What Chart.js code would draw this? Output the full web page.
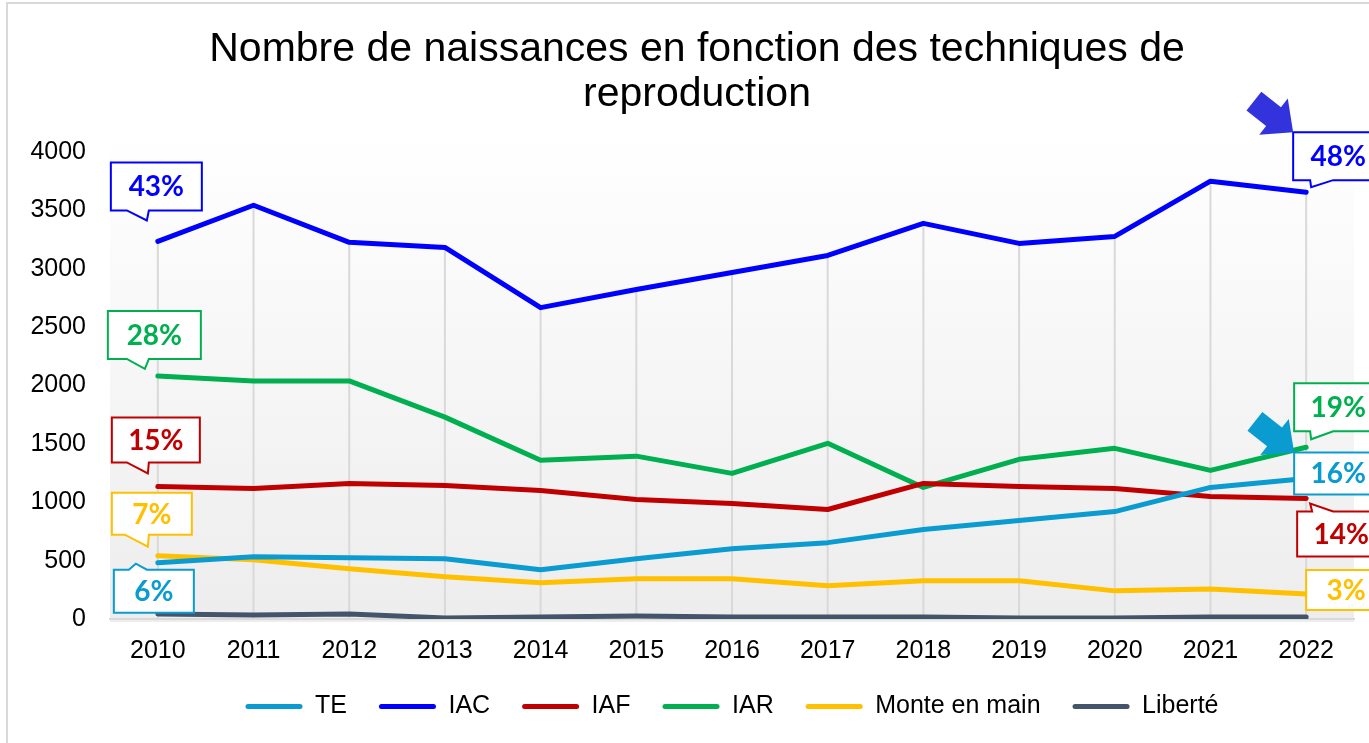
<!DOCTYPE html>
<html>
<head>
<meta charset="utf-8">
<script src="https://cdn.jsdelivr.net/npm/chart.js@4.4.1/dist/chart.umd.min.js"></script>
<style>
  html, body { margin: 0; padding: 0; background: #fff; overflow: hidden; }
  #wrap { position: relative; width: 1369px; height: 743px; }
</style>
</head>
<body>
<div id="wrap"><canvas id="chart"></canvas></div>
<script>
const years = ['2010', '2011', '2012', '2013', '2014', '2015', '2016', '2017', '2018', '2019', '2020', '2021', '2022'];
const te = [482, 533, 525, 516, 421, 516, 602, 654, 766, 843, 920, 1127, 1204];
const iac = [3234, 3544, 3226, 3183, 2667, 2822, 2968, 3114, 3389, 3217, 3277, 3750, 3656];
const iaf = [1135, 1118, 1161, 1144, 1101, 1024, 989, 938, 1161, 1135, 1118, 1049, 1032];
const iar = [2082, 2039, 2039, 1729, 1360, 1395, 1247, 1505, 1127, 1368, 1462, 1273, 1471];
const monte = [542, 508, 430, 361, 310, 344, 344, 284, 327, 327, 241, 258, 215];
const liberte = [43, 34, 43, 9, 17, 26, 17, 17, 17, 9, 9, 17, 17];
const yTicks = [0, 500, 1000, 1500, 2000, 2500, 3000, 3500, 4000];

const titleLines = ['Nombre de naissances en fonction des techniques de', 'reproduction'];

const colors = {
  te: '#0A9BD0',
  iac: '#0000FF',
  iaf: '#C00000',
  iar: '#00B050',
  monte: '#FFC000',
  liberte: '#44546A'
};

// callouts: dataset index, point index, box offset from the point, box size, tail
const callouts = [
  { ds: 1, i: 0, dx: -47, dy: -79, w: 91, h: 48, tail: 'bottom', b: [16, 38], tip: [-11, -21] },
  { ds: 3, i: 0, dx: -50, dy: -65, w: 93, h: 48, tail: 'bottom', b: [19, 41], tip: [-13, -7] },
  { ds: 2, i: 0, dx: -46, dy: -69, w: 88, h: 45, tail: 'bottom', b: [15, 37], tip: [-10, -13] },
  { ds: 4, i: 0, dx: -46, dy: -63, w: 80, h: 42, tail: 'bottom', b: [13, 37], tip: [-10, -9] },
  { ds: 0, i: 0, dx: -44, dy: 7, w: 80, h: 43, tail: 'top', b: [15, 33], tip: [-22, 1] },
  { ds: 1, i: 12, dx: -13, dy: -60, w: 90, h: 48, tail: 'bottom', b: [17, 40], tip: [5, -5], arrow: '#3333DD' },
  { ds: 3, i: 12, dx: -12, dy: -64, w: 88, h: 48, tail: 'bottom', b: [16, 39], tip: [5, -8] },
  { ds: 0, i: 12, dx: -12, dy: -26, w: 88, h: 42, arrow: '#0A9BD0' },
  { ds: 2, i: 12, dx: -9, dy: 13, w: 88, h: 45, tail: 'top', b: [15, 36], tip: [4, 5] },
  { ds: 4, i: 12, dx: 0, dy: -24, w: 80, h: 40 }
];

Chart.defaults.font.family = '"Liberation Sans", Arial, sans-serif';

function line(label, data, color) {
  return {
    label: label,
    data: data,
    borderColor: color,
    backgroundColor: color,
    borderWidth: 5,
    pointRadius: 0,
    tension: 0,
    borderCapStyle: 'round',
    borderJoinStyle: 'round'
  };
}

function drawArrow(ctx, tx, ty, color) {
  // block arrow pointing down-right to (tx, ty)
  ctx.save();
  ctx.translate(tx, ty);
  ctx.rotate(Math.atan2(30, 38));
  ctx.fillStyle = color;
  ctx.beginPath();
  ctx.moveTo(0, 0);
  ctx.lineTo(-25, -23);
  ctx.lineTo(-25, -12);
  ctx.lineTo(-50, -12);
  ctx.lineTo(-50, 12);
  ctx.lineTo(-25, 12);
  ctx.lineTo(-25, 23);
  ctx.closePath();
  ctx.fill();
  ctx.restore();
}

const decor = {
  id: 'decor',
  beforeDraw(chart) {
    const { ctx, chartArea: a } = chart;
    ctx.save();
    ctx.fillStyle = '#fff';
    ctx.fillRect(0, 0, chart.width, chart.height);
    ctx.strokeStyle = '#d9d9d9';
    ctx.lineWidth = 2;
    ctx.beginPath();
    ctx.moveTo(7, chart.height);
    ctx.lineTo(7, 3);
    ctx.lineTo(chart.width, 3);
    ctx.stroke();
    const g = ctx.createLinearGradient(0, a.top - 20, 0, a.bottom);
    g.addColorStop(0, '#ffffff');
    g.addColorStop(1, '#ededed');
    ctx.fillStyle = g;
    ctx.fillRect(a.left, a.top - 20, a.right - a.left, a.bottom - a.top + 23);
    ctx.restore();
  },
  beforeDatasetsDraw(chart) {
    // drop lines from the highest series down to the axis
    const { ctx, scales } = chart;
    ctx.save();
    ctx.strokeStyle = '#d9d9d9';
    ctx.lineWidth = 2;
    years.forEach((y, i) => {
      const top = Math.max(...chart.data.datasets.map(d => d.data[i]));
      const x = scales.x.getPixelForValue(i);
      ctx.beginPath();
      ctx.moveTo(x, scales.y.getPixelForValue(top));
      ctx.lineTo(x, scales.y.getPixelForValue(0));
      ctx.stroke();
    });
    ctx.restore();
  },
  afterDatasetsDraw(chart) {
    const { ctx } = chart;
    const sets = chart.data.datasets;
    ctx.save();
    callouts.forEach(c => {
      const pt = chart.getDatasetMeta(c.ds).data[c.i];
      const total = sets.reduce((s, d) => s + d.data[c.i], 0);
      const pct = Math.round(sets[c.ds].data[c.i] / total * 100) + '%';
      const color = sets[c.ds].borderColor;
      const x = pt.x + c.dx, y = pt.y + c.dy, w = c.w, h = c.h;
      ctx.beginPath();
      ctx.moveTo(x, y);
      if (c.tail === 'top') {
        ctx.lineTo(x + c.b[0], y);
        ctx.lineTo(pt.x + c.tip[0], pt.y + c.tip[1]);
        ctx.lineTo(x + c.b[1], y);
      }
      ctx.lineTo(x + w, y);
      ctx.lineTo(x + w, y + h);
      if (c.tail === 'bottom') {
        ctx.lineTo(x + c.b[1], y + h);
        ctx.lineTo(pt.x + c.tip[0], pt.y + c.tip[1]);
        ctx.lineTo(x + c.b[0], y + h);
      }
      ctx.lineTo(x, y + h);
      ctx.closePath();
      ctx.fillStyle = '#fff';
      ctx.fill();
      ctx.strokeStyle = color;
      ctx.lineWidth = 2;
      ctx.stroke();
      ctx.fillStyle = color;
      ctx.font = 'bold 28px Lato, "Open Sans", sans-serif';
      ctx.textAlign = 'center';
      ctx.textBaseline = 'middle';
      ctx.fillText(pct, x + w / 2, y + h / 2 + 1);
      if (c.arrow) drawArrow(ctx, x, y, c.arrow);
    });
    ctx.restore();
  },
  afterDraw(chart) {
    const { ctx } = chart;
    ctx.save();
    ctx.fillStyle = '#000';
    ctx.font = '41px "Liberation Sans", Arial, sans-serif';
    ctx.textAlign = 'center';
    ctx.textBaseline = 'middle';
    ctx.fillText(titleLines[0], 697, 50);
    ctx.fillText(titleLines[1], 697, 95);
    ctx.restore();
  }
};

new Chart(document.getElementById('chart'), {
  type: 'line',
  data: {
    labels: years,
    datasets: [
      line('TE', te, colors.te),
      line('IAC', iac, colors.iac),
      line('IAF', iaf, colors.iaf),
      line('IAR', iar, colors.iar),
      line('Monte en main', monte, colors.monte),
      line('Liberté', liberte, colors.liberte)
    ]
  },
  options: {
    responsive: true,
    maintainAspectRatio: false,
    animation: false,
    layout: { padding: { left: 0, right: 15, top: 152, bottom: 14 } },
    plugins: {
      title: { display: false },
      tooltip: { enabled: false },
      legend: {
        position: 'bottom',
        fullSize: false,
        labels: {
          font: { size: 25 },
          color: '#000',
          boxWidth: 57,
          boxHeight: 5,
          padding: 32,
          generateLabels: chart => chart.data.datasets.map((d, i) => ({
            text: d.label,
            fillStyle: d.borderColor,
            strokeStyle: d.borderColor,
            lineWidth: 0,
            borderRadius: 2.5,
            fontColor: '#000',
            hidden: false,
            datasetIndex: i
          })),
          useBorderRadius: true,
          borderRadius: 2.5
        }
      }
    },
    scales: {
      x: {
        offset: true,
        grid: { display: false, drawTicks: false },
        border: { display: true, color: '#d9d9d9', width: 2 },
        afterFit: s => { s.height = 43; },
        ticks: { font: { size: 25 }, color: '#000', padding: 17, maxRotation: 0 }
      },
      y: {
        min: 0,
        max: 4000,
        afterBuildTicks: s => { s.ticks = yTicks.map(v => ({ value: v })); },
        afterFit: s => { s.width = 110; },
        grid: { display: false, drawTicks: false },
        border: { display: false },
        ticks: { font: { size: 25 }, color: '#000', padding: 24, callback: v => String(v) }
      }
    }
  },
  plugins: [decor]
});
</script>
</body>
</html>
